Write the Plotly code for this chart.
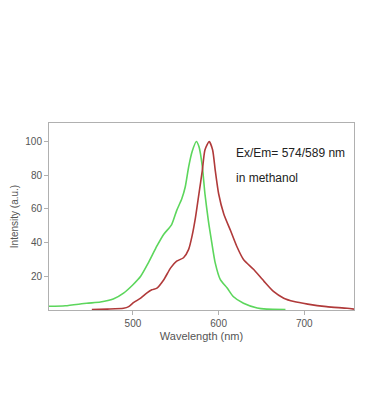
import plotly.graph_objects as go

ex_wl = [402, 421, 446, 462, 477, 489, 500, 509, 518, 528, 536, 545, 551, 557, 561, 565, 569, 574,
         577, 581, 584, 588, 592, 596, 602, 610, 617, 629, 645, 656, 678]
ex_int = [2.2, 2.5, 4, 4.7, 6.5, 10, 15, 20, 28, 38, 45, 50.5, 59, 66, 73, 85, 94, 100,
          97, 85, 69, 53, 40, 28, 18, 13, 8, 4, 1.2, 0.5, 0.2]

em_wl = [452, 470, 489, 495, 501, 509, 516, 522, 528, 536, 544, 551, 559, 565, 569, 573, 577, 581, 584,
         589, 593, 596, 600, 606, 614, 621, 629, 641, 653, 664, 676, 688, 704, 726, 750, 758]
em_int = [0.2, 0.5, 1, 2, 4.5, 7, 10, 12, 13, 18, 25, 29, 31, 36, 44, 55, 69, 83, 95,
          100, 95, 83, 69, 57, 47, 38, 30, 24, 17, 11, 7, 5, 3.5, 2, 1, 0.5]

x_ticks = [500, 600, 700]
y_ticks = [20, 40, 60, 80, 100]

fig = go.Figure()
fig.add_trace(go.Scatter(x=ex_wl, y=ex_int, mode="lines", line=dict(color="#5cd65c", width=1.6, shape="spline", smoothing=0.6), showlegend=False))
fig.add_trace(go.Scatter(x=em_wl, y=em_int, mode="lines", line=dict(color="#b03a3a", width=1.6, shape="spline", smoothing=0.6), showlegend=False))

fig.add_annotation(x=0.605, y=0.839, xref="paper", yref="paper", xanchor="left", yanchor="middle",
                   text="Ex/Em= 574/589 nm", showarrow=False, font=dict(size=12, color="#222", family="Liberation Sans"))
fig.add_annotation(x=0.605, y=0.705, xref="paper", yref="paper", xanchor="left", yanchor="middle",
                   text="in methanol", showarrow=False, font=dict(size=12, color="#222", family="Liberation Sans"))

fig.update_layout(
    width=370, height=419,
    margin=dict(l=49, r=16, t=123, b=109),
    paper_bgcolor="white", plot_bgcolor="white",
    font=dict(family="Liberation Sans", color="#555", size=10),
)
fig.update_xaxes(range=[402, 758], tickvals=x_ticks, showgrid=False, zeroline=False,
                 showline=True, mirror=True, linecolor="#b0b0b0", linewidth=1,
                 ticks="outside", ticklen=4, tickcolor="#b0b0b0",
                 title=dict(text="Wavelength (nm)", standoff=4, font=dict(size=11, color="#555")))
fig.update_yaxes(range=[0, 111], tickvals=y_ticks, showgrid=False, zeroline=False,
                 showline=True, mirror=True, linecolor="#b0b0b0", linewidth=1,
                 ticks="outside", ticklen=4, tickcolor="#b0b0b0",
                 title=dict(text="Intensity (a.u.)", standoff=4, font=dict(size=10, color="#555")))

fig.write_html("out.html")
